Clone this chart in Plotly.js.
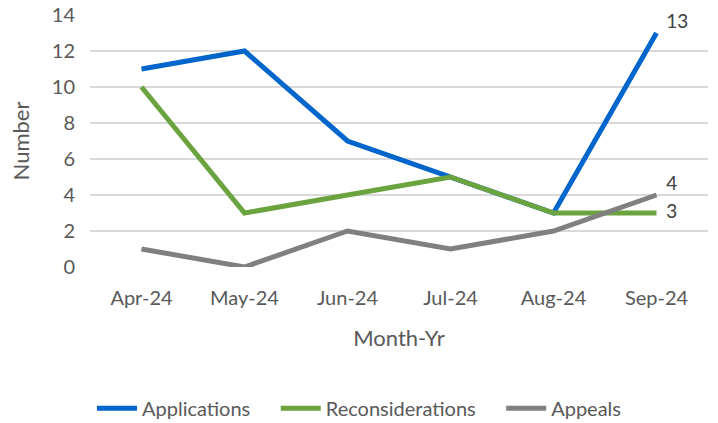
<!DOCTYPE html>
<html><head><meta charset="utf-8">
<script src="https://cdn.plot.ly/plotly-3.0.1.min.js"></script>
<style>html,body{margin:0;padding:0;background:#fff}#chart{width:718px;height:423px}</style>
</head><body><div id="chart"></div>
<script>
const months = ["Apr-24","May-24","Jun-24","Jul-24","Aug-24","Sep-24"];
const applications = [11,12,7,5,3,13];
const reconsiderations = [10,3,4,5,3,3];
const appeals = [1,0,2,1,2,4];
const yTicks = [0,2,4,6,8,10,12,14];

function lastLabel(arr){ return arr.map((v,i)=> i===arr.length-1 ? "\u00a0\u00a0" + v : ""); }
const font = "Lato, Open Sans, sans-serif";
const tf = {size:19,color:"#404040",family:font};
const sp = "\u00a0\u00a0\u00a0\u00a0";
const traces = [
  {x:months,y:applications,name:"Applications"+sp,mode:"lines+text",text:lastLabel(applications),textposition:"top right",
   line:{color:"#0066CC",width:5},textfont:tf,cliponaxis:false},
  {x:months,y:reconsiderations,name:"Reconsiderations"+sp,mode:"lines+text",text:lastLabel(reconsiderations),textposition:"middle right",
   line:{color:"#6BA33F",width:5},textfont:tf,cliponaxis:false},
  {x:months,y:appeals,name:"Appeals",mode:"lines+text",text:lastLabel(appeals),textposition:"top right",
   line:{color:"#808080",width:5},textfont:tf,cliponaxis:false}
];
const layout = {
  width:718,height:423,
  margin:{l:90,r:10,t:15,b:156},
  paper_bgcolor:"#fff",plot_bgcolor:"#fff",
  font:{family:font,color:"#595959",size:18},
  xaxis:{type:"category",range:[-0.5,5.5],showgrid:false,zeroline:false,showline:false,ticks:"",automargin:false,
    tickfont:{size:20,color:"#595959"},ticklabelstandoff:17,
    title:{text:"Month-Yr",font:{size:22,color:"#595959"},standoff:22}},
  yaxis:{range:[0,14],tickvals:yTicks,showgrid:true,gridcolor:"#D9D9D9",gridwidth:1.5,zeroline:false,showline:false,ticks:"",automargin:false,
    tickfont:{size:20,color:"#595959"},ticklabelstandoff:14,
    title:{text:"Number",font:{size:22,color:"#595959"},standoff:16}},
  showlegend:true,
  legend:{orientation:"h",x:0.5,xref:"container",xanchor:"center",y:0.035,yref:"container",yanchor:"middle",
    font:{size:20,color:"#595959"},itemwidth:40,tracegroupgap:0},
};
Plotly.newPlot("chart",traces,layout,{displayModeBar:false,staticPlot:true});
</script></body></html>
